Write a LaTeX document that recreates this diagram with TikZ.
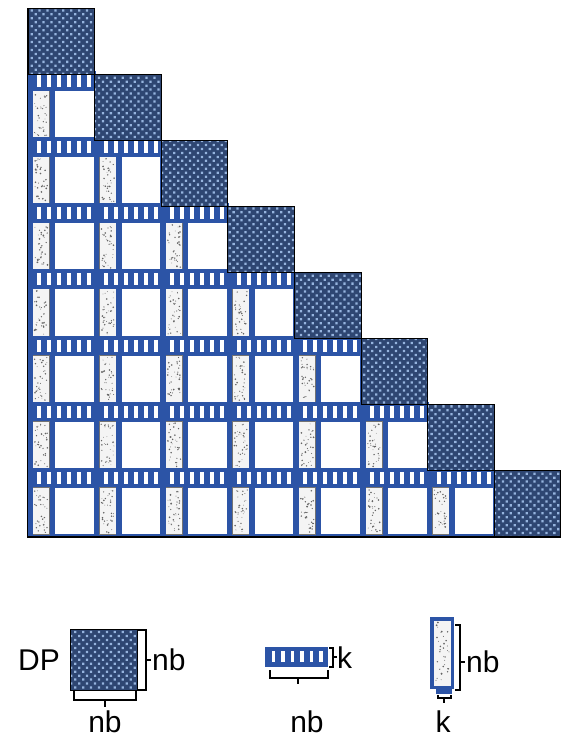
\documentclass[tikz,border=0pt]{standalone}
\usepackage{fontspec}
\setmainfont{Liberation Sans}
\usetikzlibrary{patterns.meta}
\definecolor{pblue}{RGB}{44,84,166}
\definecolor{diagbase}{RGB}{46,70,114}
\definecolor{diaglight}{RGB}{150,180,222}
\definecolor{stipcol}{RGB}{100,100,100}
\definecolor{stipbg}{RGB}{244,244,244}
\newcommand\mystip[4]{%
  \fill[stipbg] (#1,#2) rectangle (#3,#4);
  \foreach \n in {1,...,34}{%
    \pgfmathsetmacro\px{(#1)+1.5+rnd*((#3)-(#1)-3)}%
    \pgfmathsetmacro\py{(#2)+1.5+rnd*((#4)-(#2)-3)}%
    \pgfmathsetmacro\pr{0.35+0.6*rnd}%
    \fill[stipcol] (\px,\py) circle[radius=\pr];
  }%
}
\tikzset{
  diagblk/.style={preaction={fill=diagbase},
    pattern={Dots[radius=1.6pt,distance=5.6pt,angle=45]},
    pattern color=diaglight, draw=black, line width=0.9pt},
  brk/.style={draw=black, line width=1.1pt},
  lbl/.style={font=\fontsize{30}{32}\selectfont, inner sep=0pt}
}
\begin{document}
\begin{tikzpicture}[x=1pt,y=-1pt]
\pgfmathsetseed{4711}
\fill[white] (0,0) rectangle (572,739);
\useasboundingbox (0,0) rectangle (572,739);
% lower triangular panels
\foreach \i in {1,...,7}{
  \pgfmathsetmacro\T{8+\i*66.1}
  \pgfmathsetmacro\Li{28+\i*66.6}
  \pgfmathtruncatemacro\im{\i-1}
  \fill[pblue] (28,\T-3) rectangle (\Li+1,\T+66.1);
  \foreach \j in {0,...,\im}{
    \pgfmathsetmacro\L{28+\j*66.6}
    \foreach \k in {0,...,5}{
      \fill[white] (\L+9+10*\k,\T+1) rectangle ++(4,12);
    }
    \fill[black!55] (\L+4.5,\T+16.5) rectangle (\L+21.5,\T+64);
    \mystip{\L+5}{\T+17}{\L+21}{\T+63.5}
    \fill[white] (\L+27,\T+17) rectangle (\L+65.5,\T+63.5);
  }
}
% diagonal blocks
\foreach \i in {0,...,7}{
  \path[diagblk] (28+\i*66.6,8+\i*66.1) rectangle ++(66.6,66.1);
}
% outer lines
\coordinate (tl) at (27.5,8);
\coordinate (bl) at (27.5,537);
\coordinate (br) at (561,537);
\draw[black, line width=1.4pt] (tl) -- (bl) -- (br);
% legend: DP block
\path[diagblk] (70,629) rectangle (137,690);
\node[lbl] (dp) at (39,660) {DP};
\draw[brk] (138,630) -- (146,630) -- (146,690) -- (138,690);
\coordinate (dpr) at (146,660);
\coordinate (dprt) at (151,660);
\draw[brk] (dpr) -- (dprt);
\node[lbl, anchor=west] (dpnb1) at (152,660) {nb};
\draw[brk] (74,691) -- (74,700) -- (136,700) -- (136,691);
\coordinate (dpb) at (105,700);
\coordinate (dpbt) at (105,707);
\draw[brk] (dpb) -- (dpbt);
\node[lbl] (dpnb2) at (105,722) {nb};
% legend: row panel
\fill[pblue] (265,647) rectangle (328,667);
\foreach \k in {0,...,5}{
  \fill[white] (271.5+9.5*\k,651) rectangle ++(3.8,11);
}
\draw[brk] (329,648) -- (333,648) -- (333,667) -- (329,667);
\coordinate (pr) at (333,657);
\coordinate (prt) at (337,657);
\draw[brk] (pr) -- (prt);
\node[lbl, anchor=west] (pk) at (337,658) {k};
\draw[brk] (270,670) -- (270,678) -- (328,678) -- (328,670);
\coordinate (pb) at (298,678);
\coordinate (pbt) at (298,684);
\draw[brk] (pb) -- (pbt);
\node[lbl] (pnb) at (307,722) {nb};
% legend: column panel
\fill[pblue] (430,617) rectangle (454,689);
\fill[pblue] (436,688) rectangle (452,694);
\mystip{433.5}{620.5}{450.5}{686}
\draw[brk] (455,625) -- (460,625) -- (460,690) -- (455,690);
\coordinate (cr) at (460,662);
\coordinate (crt) at (465,662);
\draw[brk] (cr) -- (crt);
\node[lbl, anchor=west] (cnb) at (466,662) {nb};
\draw[brk] (438,695) -- (438,698) -- (451,698) -- (451,695);
\coordinate (cb) at (444,698);
\coordinate (cbt) at (444,703);
\draw[brk] (cb) -- (cbt);
\node[lbl] (ck) at (443,722) {k};
\end{tikzpicture}
\end{document}
